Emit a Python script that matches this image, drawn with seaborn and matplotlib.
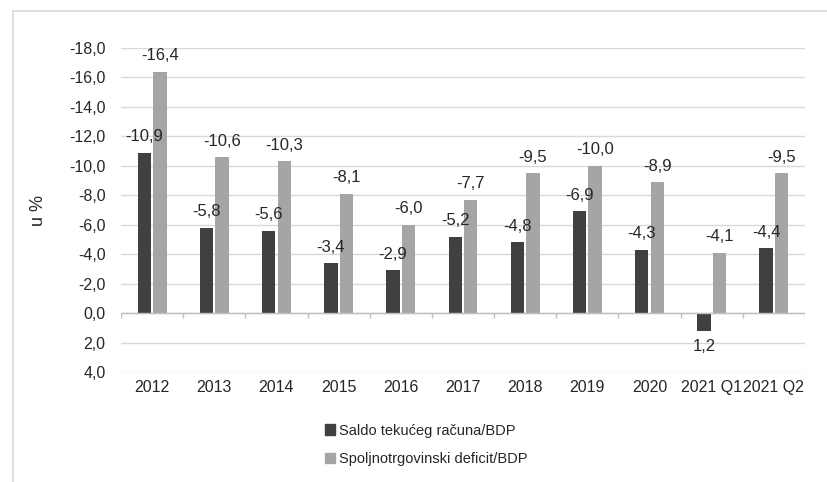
import numpy as np
import pandas as pd
import seaborn as sns
import matplotlib.pyplot as plt
from matplotlib.lines import Line2D

# data (u %)
periods = ['2012', '2013', '2014', '2015', '2016', '2017', '2018', '2019', '2020', '2021 Q1', '2021 Q2']
saldo = [-10.9, -5.8, -5.6, -3.4, -2.9, -5.2, -4.8, -6.9, -4.3, 1.2, -4.4]
deficit = [-16.4, -10.6, -10.3, -8.1, -6.0, -7.7, -9.5, -10.0, -8.9, -4.1, -9.5]
series_names = ['Saldo tekućeg računa/BDP', 'Spoljnotrgovinski deficit/BDP']
y_ticks = np.arange(-18, 5, 2)

df = pd.DataFrame({'Period': periods * 2,
                   'Series': [series_names[0]] * len(periods) + [series_names[1]] * len(periods),
                   'Value': saldo + deficit})

sns.set_style('white')
plt.rcParams['font.family'] = ['Liberation Sans', 'DejaVu Sans']

fig = plt.figure(figsize=(8.28, 4.82), dpi=100)
ax = fig.add_axes([121 / 828, 1 - 372 / 482, (805 - 121) / 828, (372 - 48) / 482])

sns.barplot(data=df, x='Period', y='Value', hue='Series', order=periods, hue_order=series_names,
            palette=['#404040', '#a5a5a5'], width=0.5, gap=0.14, ax=ax, legend=False,
            saturation=1, edgecolor='none')

ax.set_ylim(y_ticks[-1], y_ticks[0])
ax.set_yticks(y_ticks)
ax.set_yticklabels([f'{v:.1f}'.replace('.', ',') for v in y_ticks], fontsize=11.5)
ax.set_xlim(-0.5, len(periods) - 0.5)
ax.grid(axis='y', color='#d9d9d9', linewidth=1)
ax.set_axisbelow(True)
for s in ax.spines.values():
    s.set_visible(False)
ax.tick_params(axis='both', length=0)
ax.tick_params(axis='x', pad=6, labelsize=11.5)
ax.tick_params(axis='y', pad=11)
ax.set_xlabel('')
ax.set_ylabel('u %', fontsize=13, labelpad=16)

# category axis at zero with tick marks between categories
ax.axhline(0, color='#bfbfbf', linewidth=1, zorder=1)
ax.vlines(np.arange(len(periods) + 1) - 0.5, 0, 0.35, color='#bfbfbf', linewidth=1, zorder=1)

for cont, vals in zip(ax.containers, [saldo, deficit]):
    ax.bar_label(cont, labels=[f'{v:.1f}'.replace('.', ',') for v in vals], padding=6, fontsize=12)

handles = [plt.Rectangle((0, 0), 1, 1, color=c) for c in ['#404040', '#a5a5a5']]
fig.legend(handles, series_names, loc='center', bbox_to_anchor=(0.515, 0.077), ncol=1,
           frameon=False, fontsize=10.5, handlelength=0.7, handleheight=0.7,
           handletextpad=0.3, labelspacing=1.0)

# light chart-area border (top and left)
fig.add_artist(Line2D([13 / 828, 13 / 828], [0, 1 - 11 / 482], color='#d9d9d9', linewidth=1.2))
fig.add_artist(Line2D([13 / 828, 1], [1 - 11 / 482, 1 - 11 / 482], color='#d9d9d9', linewidth=1.2))

fig.savefig('out.png', dpi=100)
